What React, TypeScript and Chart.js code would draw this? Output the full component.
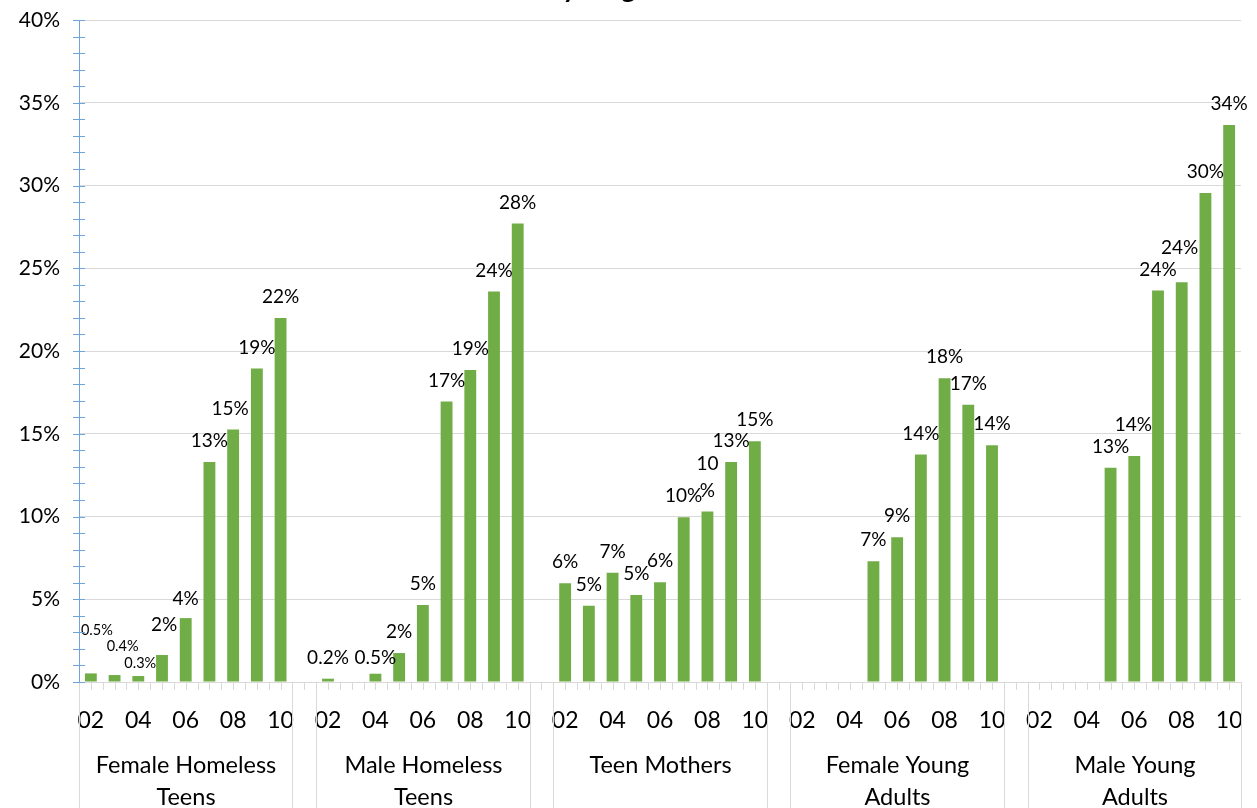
import React, { useEffect, useRef } from "react";
import { Chart, registerables } from "chart.js";

Chart.register(...registerables);

// ---- data ----
const years = ["02", "03", "04", "05", "06", "07", "08", "09", "10"];
const groupNames = [
  ["Female Homeless", "Teens"],
  ["Male Homeless", "Teens"],
  ["Teen Mothers"],
  ["Female Young", "Adults"],
  ["Male Young", "Adults"],
];
const femaleHomelessTeens = [0.52, 0.42, 0.36, 1.63, 3.86, 13.3, 15.25, 18.95, 22.0];
const maleHomelessTeens = [0.2, null, 0.5, 1.75, 4.65, 16.95, 18.85, 23.6, 27.7];
const teenMothers = [5.97, 4.6, 6.6, 5.25, 6.03, 9.95, 10.3, 13.3, 14.55];
const femaleYoungAdults = [null, null, null, 7.3, 8.75, 13.75, 18.35, 16.75, 14.3];
const maleYoungAdults = [null, null, null, 12.95, 13.65, 23.65, 24.15, 29.55, 33.65];

const femaleHomelessTeensLabels = ["0.5%", "0.4%", "0.3%", "2%", "4%", "13%", "15%", "19%", "22%"];
const maleHomelessTeensLabels = ["0.2%", "", "0.5%", "2%", "5%", "17%", "19%", "24%", "28%"];
const teenMothersLabels = ["6%", "5%", "7%", "5%", "6%", "10%", "10\n%", "13%", "15%"];
const femaleYoungAdultsLabels = ["", "", "", "7%", "9%", "14%", "18%", "17%", "14%"];
const maleYoungAdultsLabels = ["", "", "", "13%", "14%", "24%", "24%", "30%", "34%"];

const yTicks = [0, 5, 10, 15, 20, 25, 30, 35, 40];

// label placement tweaks (group index, year index, dx, dy, small font)
const labelNudges = [
  { g: 0, i: 0, dx: 6, dy: -22, small: true },
  { g: 0, i: 1, dx: 8, dy: -8, small: true },
  { g: 0, i: 2, dx: 2, dy: 8, small: true },
  { g: 0, i: 3, dx: 2, dy: -9, small: false },
  { g: 0, i: 4, dx: 0, dy: 2, small: false },
  { g: 0, i: 6, dx: -3, dy: 0, small: false },
  { g: 1, i: 2, dx: 0, dy: 5, small: false },
  { g: 4, i: 4, dx: -1, dy: -10, small: false },
  { g: 4, i: 6, dx: -2, dy: -13, small: false },
];

const series = [femaleHomelessTeens, maleHomelessTeens, teenMothers, femaleYoungAdults, maleYoungAdults];
const seriesLabels = [
  femaleHomelessTeensLabels,
  maleHomelessTeensLabels,
  teenMothersLabels,
  femaleYoungAdultsLabels,
  maleYoungAdultsLabels,
];

// flatten with a blank category between groups
const categories: string[] = [];
const values: (number | null)[] = [];
const valueLabels: string[] = [];
const groupOf: number[] = [];
const yearIdx: number[] = [];
series.forEach((arr, g) => {
  if (g > 0) {
    categories.push(" ");
    values.push(null);
    valueLabels.push("");
    groupOf.push(-1);
    yearIdx.push(-1);
  }
  arr.forEach((v, i) => {
    categories.push(years[i]);
    values.push(v);
    valueLabels.push(seriesLabels[g][i]);
    groupOf.push(g);
    yearIdx.push(i);
  });
});

const FONT = "Lato, 'DejaVu Sans', sans-serif";
const AXIS_BLUE = "#6fa5dc";
const GRID = "#d9d9d9";

const decorPlugin = {
  id: "decor",
  afterDraw(chart: any) {
    const ctx = chart.ctx;
    const xs = chart.scales.x;
    const ys = chart.scales.y;
    const area = chart.chartArea;
    const n = categories.length;
    const step = n > 1 ? xs.getPixelForValue(1) - xs.getPixelForValue(0) : 0;
    ctx.save();
    // x-axis tick marks at every half category
    ctx.strokeStyle = GRID;
    ctx.lineWidth = 1;
    ctx.beginPath();
    for (let k = 0; k < n; k++) {
      const c = Math.round(xs.getPixelForValue(k)) + 0.5;
      const l = Math.round(xs.getPixelForValue(k) - step / 2) + 0.5;
      ctx.moveTo(c, area.bottom);
      ctx.lineTo(c, area.bottom + 8);
      ctx.moveTo(l, area.bottom);
      ctx.lineTo(l, area.bottom + 8);
    }
    ctx.stroke();
    // group dividers and group labels
    ctx.beginPath();
    const groupCenters: number[] = [];
    for (let g = 0; g < series.length; g++) {
      const first = groupOf.indexOf(g);
      const last = groupOf.lastIndexOf(g);
      const x0 = Math.round(xs.getPixelForValue(first) - step / 2) + 0.5;
      const x1 = Math.round(xs.getPixelForValue(last) + step / 2) + 0.5;
      ctx.moveTo(x0, area.bottom);
      ctx.lineTo(x0, chart.height);
      ctx.moveTo(x1, area.bottom);
      ctx.lineTo(x1, chart.height);
      groupCenters.push((x0 + x1) / 2);
    }
    ctx.stroke();
    ctx.fillStyle = "#000";
    ctx.font = `23.5px ${FONT}`;
    ctx.textAlign = "center";
    ctx.textBaseline = "middle";
    groupNames.forEach((lines, g) => {
      lines.forEach((t, li) => {
        ctx.fillText(t, groupCenters[g], area.bottom + 83 + li * 32);
      });
    });
    // y-axis minor ticks
    ctx.strokeStyle = AXIS_BLUE;
    ctx.beginPath();
    for (let v = 0; v <= 40; v++) {
      const y = Math.round(ys.getPixelForValue(v)) + 0.5;
      ctx.moveTo(area.left - 6, y);
      ctx.lineTo(area.left + 6, y);
    }
    ctx.stroke();
    // title (mostly cut off at top)
    ctx.font = `bold 27px ${FONT}`;
    ctx.textAlign = "left";
    ctx.textBaseline = "alphabetic";
    const title = "Prevalence by Stage";
    const pre = ctx.measureText("Prevalence b").width;
    const yw = ctx.measureText("y").width;
    ctx.fillText(title, 570 - pre - yw / 2, -2);
    ctx.restore();
  },
  afterDatasetsDraw(chart: any) {
    const ctx = chart.ctx;
    const meta = chart.getDatasetMeta(0);
    ctx.save();
    ctx.fillStyle = "#000";
    ctx.textAlign = "center";
    ctx.textBaseline = "middle";
    meta.data.forEach((bar: any, k: number) => {
      const txt = valueLabels[k];
      if (!txt || values[k] == null) return;
      const nudge = labelNudges.find((q) => q.g === groupOf[k] && q.i === yearIdx[k]);
      const dx = nudge ? nudge.dx : 0;
      const dy = nudge ? nudge.dy : 0;
      ctx.font = nudge && nudge.small ? `14.5px ${FONT}` : `19px ${FONT}`;
      const lines = txt.split("\n");
      lines.forEach((t, li) => {
        const y = bar.y - 21 + dy - (lines.length - 1 - li) * 27;
        ctx.fillText(t, bar.x + dx, y);
      });
    });
    ctx.restore();
  },
};

export default function App() {
  const ref = useRef<HTMLCanvasElement | null>(null);
  useEffect(() => {
    if (!ref.current) return;
    const chart = new Chart(ref.current, {
      type: "bar",
      data: {
        labels: categories,
        datasets: [
          {
            data: values,
            backgroundColor: "#70ad47",
            borderWidth: 0,
            barPercentage: 0.5,
            categoryPercentage: 1,
          },
        ],
      },
      options: {
        animation: false,
        responsive: true,
        maintainAspectRatio: false,
        layout: { padding: { top: 20, right: 16, left: 0, bottom: 0 } },
        plugins: { legend: { display: false }, tooltip: { enabled: false }, title: { display: false } },
        scales: {
          x: {
            type: "category",
            offset: true,
            grid: { display: false },
            border: { display: true, color: GRID, width: 1 },
            ticks: {
              autoSkip: false,
              maxRotation: 0,
              minRotation: 0,
              padding: 17,
              color: "#000",
              font: { family: FONT, size: 23 },
              callback: (_v: any, i: number) => (yearIdx[i] >= 0 && yearIdx[i] % 2 === 0 ? years[yearIdx[i]] : ""),
            },
            afterFit: (s: any) => {
              s.height = 126;
              s.paddingLeft = 0;
              s.paddingRight = 0;
            },
          },
          y: {
            min: 0,
            max: 40,
            afterBuildTicks: (s: any) => {
              s.ticks = yTicks.map((v) => ({ value: v }));
            },
            grid: { color: GRID, drawTicks: false },
            border: { display: true, color: AXIS_BLUE, width: 1 },
            ticks: {
              padding: 19,
              color: "#000",
              font: { family: FONT, size: 21 },
              callback: (v: any) => `${v}%`,
            },
            afterFit: (s: any) => {
              s.width = 79;
              s.paddingTop = 0;
              s.paddingBottom = 0;
            },
          },
        },
      },
      plugins: [decorPlugin],
    });
    return () => chart.destroy();
  }, []);
  return (
    <div style={{ position: "absolute", left: 0, top: 0, width: 1257, height: 808 }}>
      <canvas ref={ref} />
    </div>
  );
}
